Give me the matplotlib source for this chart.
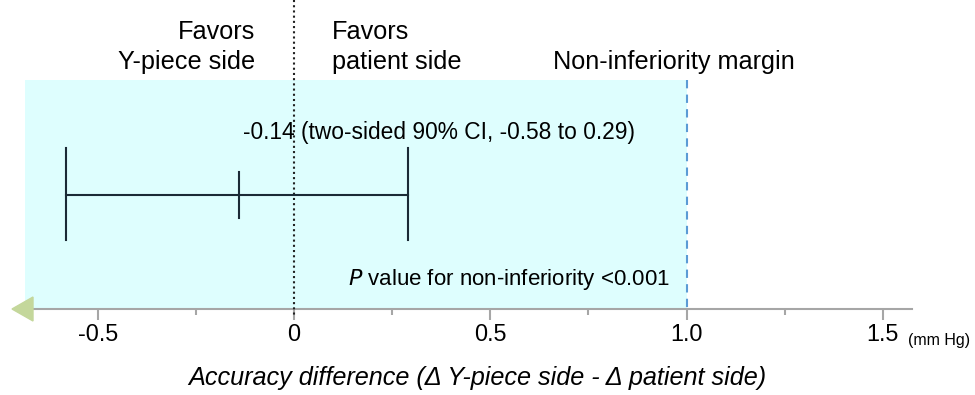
import matplotlib
matplotlib.use("Agg")
import matplotlib.pyplot as plt
from matplotlib.patches import Polygon

# Data
point_estimate = -0.14
ci_lower = -0.58
ci_upper = 0.29
margin = 1.0
tick_values = [-0.5, 0.0, 0.5, 1.0, 1.5]
tick_labels = ["-0.5", "0", "0.5", "1.0", "1.5"]
minor_tick_values = [-0.25, 0.25, 0.75, 1.25]

plt.rcParams['font.family'] = ['Liberation Sans', 'DejaVu Sans']

W, H = 975, 395
fig = plt.figure(figsize=(W / 100, H / 100), dpi=100)

px0, px1 = 294.0, 686.5   # pixel for x=0 and x=1
scale = px1 - px0
def xd(px):
    return (px - px0) / scale

ax_left_px, ax_right_px, ax_bottom_px = 33, 912, 309
ax = fig.add_axes([ax_left_px / W, (H - ax_bottom_px) / H,
                   (ax_right_px - ax_left_px) / W, ax_bottom_px / H])
ax.set_xlim(xd(ax_left_px), xd(ax_right_px))
ax.set_ylim(ax_bottom_px, 0)
ax.patch.set_alpha(0)

for s in ['top', 'right', 'left']:
    ax.spines[s].set_visible(False)
ax.spines['bottom'].set_color('#a6a6a6')
ax.spines['bottom'].set_linewidth(1.5)
ax.set_yticks([])
ax.set_xticks(tick_values)
ax.set_xticklabels(tick_labels, fontsize=16.8)
ax.set_xticks(minor_tick_values, minor=True)
ax.tick_params(axis='x', which='major', length=8, width=1.5, color='#a6a6a6', pad=2)
ax.tick_params(axis='x', which='minor', length=4, width=1.5, color='#a6a6a6')

# shaded region
ax.fill_between([xd(25), margin], 80, ax_bottom_px, color='#defefe', lw=0, zorder=0, clip_on=False)
# margin line
ax.plot([margin, margin], [80, ax_bottom_px], color='#5b9bd5', ls=(0, (4, 3)), lw=1.5, zorder=2)
# zero dotted line
ax.plot([0, 0], [0, ax_bottom_px + 8], color='#222222', ls=(0, (1, 1.5)), lw=1.5, zorder=3, clip_on=False)

# CI
lc = '#1b2a36'
yc = 195
ax.plot([ci_lower, ci_upper], [yc, yc], color=lc, lw=1.5, zorder=4)
ax.plot([ci_lower, ci_lower], [148, 240], color=lc, lw=1.5, zorder=4)
ax.plot([ci_upper, ci_upper], [148, 240], color=lc, lw=1.5, zorder=4)
ax.plot([point_estimate, point_estimate], [172, 218], color=lc, lw=1.5, zorder=4)

# arrow
tri = Polygon([[xd(12), 309], [xd(33), 297], [xd(33), 321]], closed=True,
              color='#c4d79b', clip_on=False, zorder=5)
ax.add_patch(tri)

fs_big = 18.2
fs = 16.4
ax.text(xd(255), 47, "Favors\nY-piece side", ha='right', va='center', fontsize=fs_big,
        multialignment='right', linespacing=1.3)
ax.text(xd(332), 47, "Favors\npatient side", ha='left', va='center', fontsize=fs_big,
        multialignment='left', linespacing=1.3)
ax.text(xd(553), 62, "Non-inferiority margin", ha='left', va='center', fontsize=fs_big)
ax.text(xd(243), 132, f"{point_estimate:.2f} (two-sided 90% CI, {ci_lower:.2f} to {ci_upper:.2f})",
        ha='left', va='center', fontsize=fs)
ax.text(xd(670), 279, r"$\mathit{P}$ value for non-inferiority <0.001", ha='right', va='center',
        fontsize=16.0)

fig.text(908 / W, 1 - 341 / H, "(mm Hg)", ha='left', va='center', fontsize=11.5)
fig.text(477.5 / W, 1 - 378 / H, "Accuracy difference (Δ Y-piece side - Δ patient side)",
         ha='center', va='center', fontsize=fs_big, style='italic')

fig.savefig("out.png", dpi=100)
